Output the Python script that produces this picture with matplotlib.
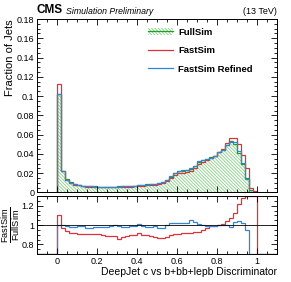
import numpy as np
import matplotlib
matplotlib.use('Agg')
import matplotlib.pyplot as plt
from matplotlib.patches import Patch
from matplotlib.lines import Line2D
from matplotlib.ticker import MultipleLocator, FuncFormatter

plt.rcParams['font.family'] = ['Liberation Sans', 'DejaVu Sans']
plt.rcParams['mathtext.fontset'] = 'custom'
plt.rcParams['mathtext.rm'] = 'Liberation Sans'
plt.rcParams['hatch.linewidth'] = 0.6

# --- data: 50 bins of width 0.02 on [0, 1] ---
bin_edges = np.linspace(0.0, 1.0, 51)

# FullSim fraction of jets per bin
full_sim = np.array([
    0.102, 0.0228, 0.0135, 0.0105, 0.0090, 0.0080, 0.0072, 0.0068, 0.0065, 0.0063,
    0.0062, 0.0062, 0.0062, 0.0062, 0.0062, 0.0063, 0.0064, 0.0066, 0.0068, 0.0072,
    0.0076, 0.0079, 0.0083, 0.0088, 0.0093, 0.0100, 0.0114, 0.0131, 0.0165, 0.0200,
    0.0218, 0.0225, 0.0230, 0.0245, 0.0270, 0.0320, 0.0335, 0.0350, 0.0365, 0.0380,
    0.0420, 0.0445, 0.0490, 0.0530, 0.0505, 0.0410, 0.0300, 0.0150, 0.0025, 0.0008,
])

# ratio to FullSim
ratio_fast = np.array([
    1.100, 0.970, 0.935, 0.918, 0.918, 0.910, 0.910, 0.904, 0.910, 0.912,
    0.905, 0.894, 0.883, 0.883, 0.883, 0.860, 0.874, 0.883, 0.900, 0.900,
    0.915, 0.900, 0.900, 0.883, 0.880, 0.867, 0.867, 0.877, 0.894, 0.908,
    0.908, 0.918, 0.918, 0.918, 0.930, 0.930, 0.950, 0.970, 0.986, 0.986,
    0.997, 1.010, 1.045, 1.070, 1.120, 1.220, 1.280, 1.670, 1.700, 1.500,
])
ratio_refined = np.array([
    1.000, 1.000, 0.990, 0.983, 0.983, 0.990, 0.990, 0.970, 0.970, 0.976,
    0.976, 0.980, 0.980, 0.990, 1.000, 0.986, 0.976, 0.976, 0.986, 0.986,
    1.010, 0.990, 0.980, 0.980, 0.986, 0.966, 0.966, 1.000, 1.017, 1.017,
    1.017, 1.017, 1.017, 1.048, 1.030, 1.010, 1.000, 0.986, 0.993, 0.993,
    1.000, 1.000, 1.000, 0.980, 1.030, 1.040, 1.020, 0.950, 0.000, 0.000,
])

fast_sim = full_sim * ratio_fast
fast_refined = full_sim * ratio_refined

x_range = (-0.1, 1.1)
ratio_range = (0.7, 1.3)

c_green = '#1f9e2a'
c_hatch = '#86cf86'
c_red = '#e0303a'
c_blue = '#2e86dc'
hatch = '\\' * 10

fig = plt.figure(figsize=(2.91, 2.82), dpi=100)
ax = fig.add_axes([0.127, 0.3174, 0.825, 0.6152])
rax = fig.add_axes([0.127, 0.099, 0.825, 0.206])

# --- main panel ---
ax.stairs(full_sim, bin_edges, fill=True, facecolor='none', edgecolor=c_hatch,
          hatch=hatch, linewidth=0)
ax.stairs(full_sim, bin_edges, color=c_green, linewidth=0.9)
ax.stairs(fast_sim, bin_edges, color=c_red, linewidth=0.9)
ax.stairs(fast_refined, bin_edges, color=c_blue, linewidth=0.9)

ax.set_xlim(*x_range)
ax.set_ylim(0, 0.18)
ax.set_ylabel('Fraction of Jets', loc='top', fontsize=8)
ax.yaxis.set_label_coords(-0.09, 1.0)
ax.tick_params(labelbottom=False)

fmt = FuncFormatter(lambda v, p: '%g' % round(v, 4))
for a in (ax, rax):
    a.tick_params(which='both', direction='in', top=True, right=True,
                  labelsize=6.5, width=0.6, pad=2)
    a.tick_params(which='major', length=4)
    a.tick_params(which='minor', length=2)
    a.xaxis.set_major_locator(MultipleLocator(0.2))
    a.xaxis.set_minor_locator(MultipleLocator(0.05))
    a.xaxis.set_major_formatter(fmt)
    a.yaxis.set_major_formatter(fmt)
    for s in a.spines.values():
        s.set_linewidth(0.7)
ax.yaxis.set_major_locator(MultipleLocator(0.02))
ax.yaxis.set_minor_locator(MultipleLocator(0.005))

h_full = (Patch(facecolor='none', edgecolor=c_hatch, hatch=hatch, linewidth=0),
          Line2D([], [], color=c_green, linewidth=0.9))
h_fast = Line2D([], [], color=c_red, linewidth=0.9)
h_ref = Line2D([], [], color=c_blue, linewidth=0.9)
ax.legend([h_full, h_fast, h_ref], ['FullSim', 'FastSim', 'FastSim Refined'],
          loc='upper left', bbox_to_anchor=(0.4625, 0.95), frameon=False,
          borderpad=0, borderaxespad=0, handlelength=2.6, handletextpad=0.6,
          labelspacing=1.0, prop={'size': 6.8, 'weight': 'bold'})

fig.text(0.127, 0.945, 'CMS', fontsize=8.5, fontweight='bold', ha='left', va='bottom')
fig.text(0.228, 0.945, 'Simulation Preliminary', fontsize=6.3, style='italic',
         ha='left', va='bottom')
fig.text(0.952, 0.945, '(13 TeV)', fontsize=6.5, ha='right', va='bottom')

# --- ratio panel ---
r_edges = np.concatenate(([x_range[0]], bin_edges, [x_range[1]]))
r_fast = np.concatenate(([0.0], ratio_fast, [0.0]))
r_ref = np.concatenate(([0.0], ratio_refined, [0.0]))
rax.stairs(np.clip(r_fast, *ratio_range), r_edges, color=c_red, linewidth=0.9)
rax.stairs(np.clip(r_ref, *ratio_range), r_edges, color=c_blue, linewidth=0.9)
rax.axhline(1.0, color='black', linewidth=0.6)

rax.set_xlim(*x_range)
rax.set_ylim(*ratio_range)
rax.yaxis.set_major_locator(MultipleLocator(0.2))
rax.yaxis.set_minor_locator(MultipleLocator(0.05))
rax.set_ylabel(r'$\frac{\mathrm{FastSim}}{\mathrm{FullSim}}$', fontsize=9.5)
rax.yaxis.set_label_coords(-0.06, 0.5)
rax.set_xlabel('DeepJet c vs b+bb+lepb Discriminator', loc='right', fontsize=7.5,
               labelpad=1)

fig.savefig('out.png', dpi=100)
